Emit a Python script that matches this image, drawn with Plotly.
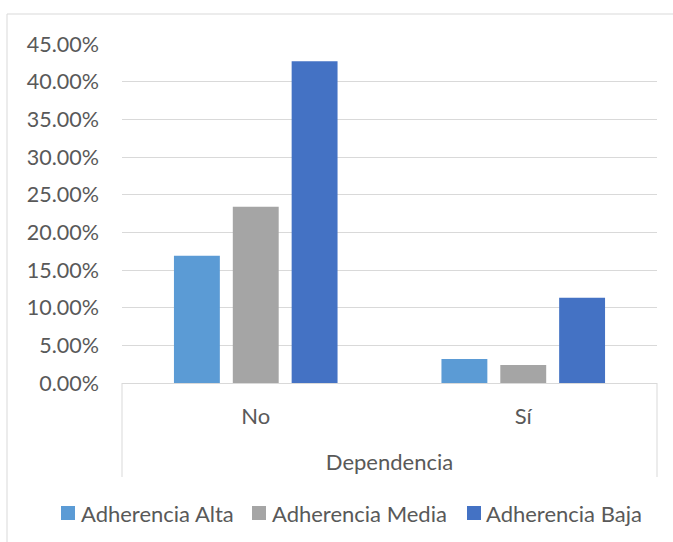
import plotly.graph_objects as go

# Dependencia vs. nivel de adherencia (porcentaje del total)
categorias = ["No", "Sí"]
series = ["Adherencia Alta", "Adherencia Media", "Adherencia Baja"]
alta = [16.9, 3.2]
media = [23.4, 2.4]
baja = [42.7, 11.3]
y_ticks = [0, 5, 10, 15, 20, 25, 30, 35, 40, 45]

colores = ["#5B9BD5", "#A5A5A5", "#4472C4"]
texto = "#595959"
linea = "#D9D9D9"
fuente = "Lato"

W, H = 673, 542
ML, MR, MT, MB = 122, 16, 44, 159
plot_w = W - ML - MR
plot_h = H - MT - MB


def px_x(px):
    return (px - ML) / plot_w


def px_y(py):
    return (H - MB - py) / plot_h


fig = go.Figure()
for nombre, valores, color in zip(series, [alta, media, baja], colores):
    fig.add_trace(go.Bar(
        name=nombre,
        x=categorias,
        y=valores,
        marker=dict(color=color, line=dict(width=0)),
        showlegend=False,
    ))

fig.update_layout(
    width=W,
    height=H,
    margin=dict(l=ML, r=MR, t=MT, b=MB, autoexpand=False),
    paper_bgcolor="white",
    plot_bgcolor="white",
    barmode="group",
    bargap=0.34,
    bargroupgap=0.22,
    font=dict(family=fuente, size=22, color=texto),
    xaxis=dict(
        range=[-0.5, 1.5],
        automargin=False,
        showgrid=False,
        showline=True,
        linecolor=linea,
        linewidth=1,
        ticks="",
        ticklabelstandoff=14,
        tickfont=dict(family=fuente, size=22, color=texto),
        title=dict(text="Dependencia", standoff=26,
                   font=dict(family=fuente, size=22, color=texto)),
        fixedrange=True,
    ),
    yaxis=dict(
        range=[0, 45],
        automargin=False,
        tickvals=y_ticks,
        ticktext=[f"{v:.2f}%" for v in y_ticks],
        showgrid=True,
        gridcolor=linea,
        gridwidth=1,
        zeroline=False,
        showline=False,
        ticks="",
        ticklabelstandoff=22,
        tickfont=dict(family=fuente, size=21.5, color=texto),
        fixedrange=True,
    ),
    showlegend=False,
)

# Marco del gráfico y recuadro del eje de categorías
shapes = [
    dict(type="rect", xref="paper", yref="paper",
         x0=px_x(7), x1=px_x(700), y0=px_y(560), y1=px_y(14),
         line=dict(color=linea, width=1), fillcolor="rgba(0,0,0,0)", layer="below"),
    dict(type="line", xref="paper", yref="paper",
         x0=0, x1=0, y0=0, y1=px_y(477), line=dict(color=linea, width=1)),
    dict(type="line", xref="paper", yref="paper",
         x0=1, x1=1, y0=0, y1=px_y(477), line=dict(color=linea, width=1)),
]

# Leyenda horizontal: cuadro de color + nombre de la serie
annotations = []
legend_square_x = [61, 252, 467]
legend_text_x = [79, 270, 484]
for nombre, color, sx, tx in zip(series, colores, legend_square_x, legend_text_x):
    shapes.append(dict(
        type="rect", xref="paper", yref="paper",
        x0=px_x(sx), x1=px_x(sx + 14), y0=px_y(520), y1=px_y(506),
        line=dict(width=0), fillcolor=color,
    ))
    annotations.append(dict(
        text=nombre, xref="paper", yref="paper",
        x=px_x(tx), y=px_y(513), xanchor="left", yanchor="middle",
        showarrow=False, font=dict(family=fuente, size=22, color=texto),
    ))

fig.update_layout(shapes=shapes, annotations=annotations)

fig.write_html("out.html")
